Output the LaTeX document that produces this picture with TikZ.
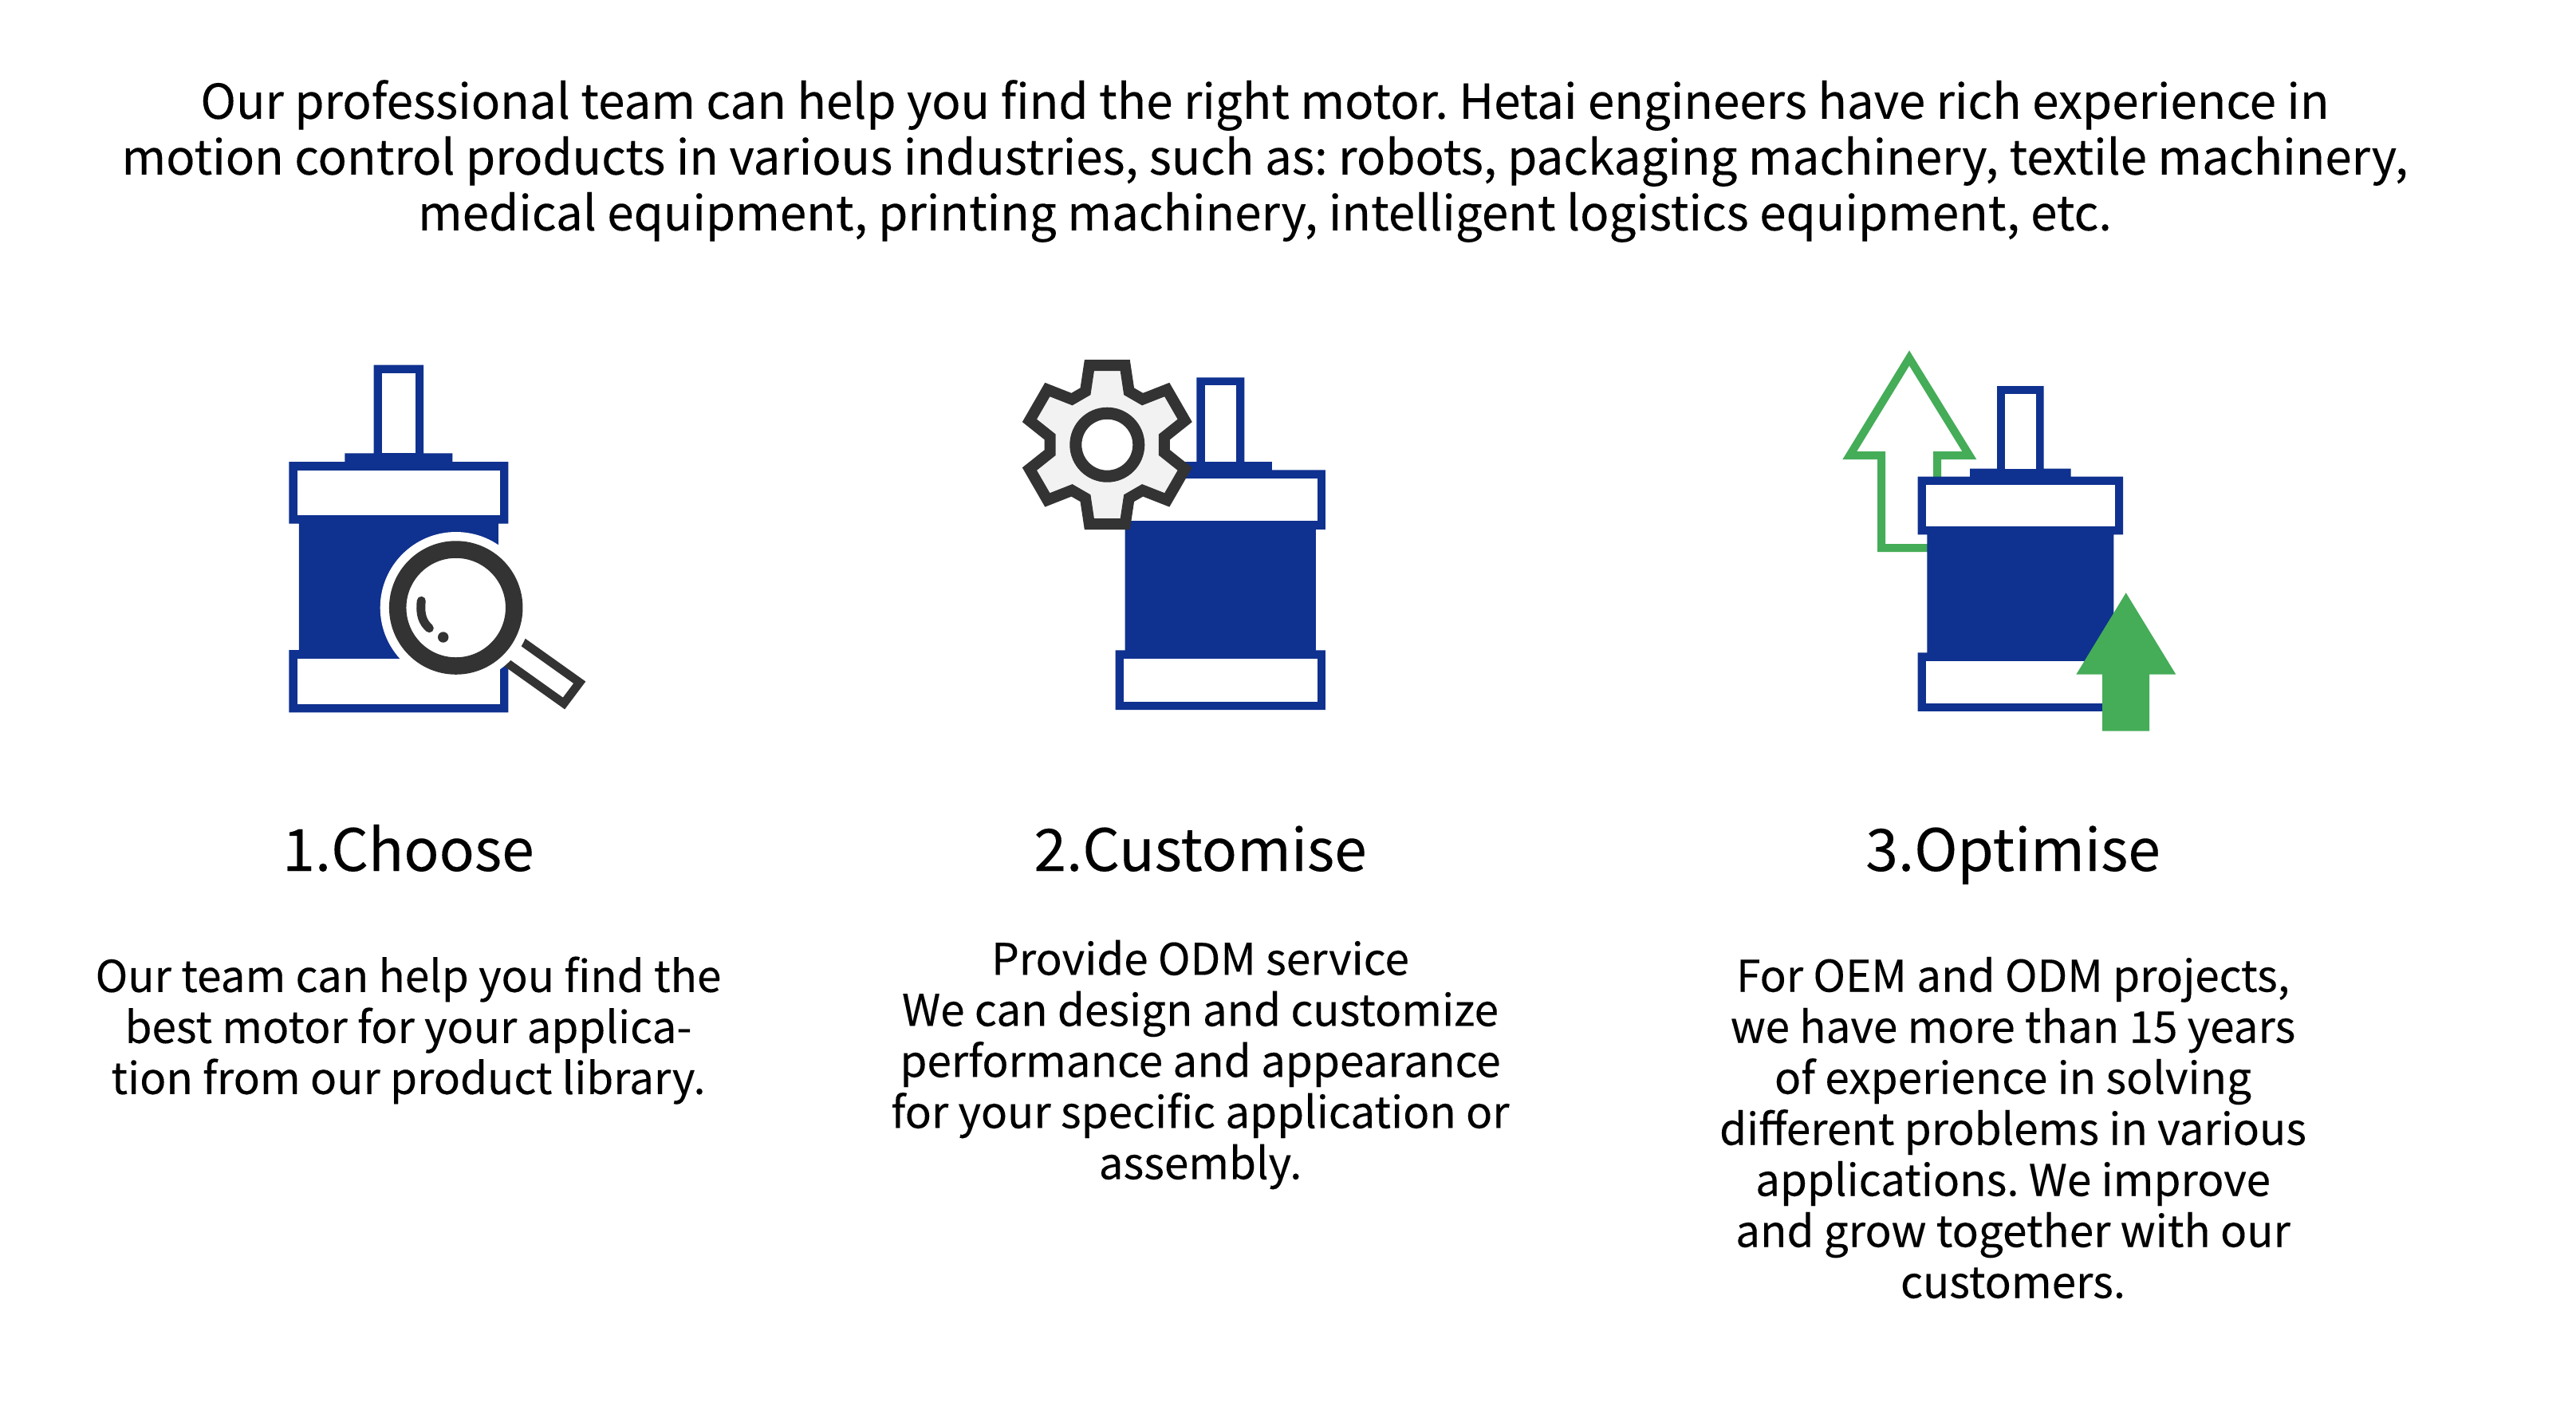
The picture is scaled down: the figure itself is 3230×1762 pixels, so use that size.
\documentclass[tikz,border=0pt]{standalone}
\usepackage{fontspec}
\setmainfont[FakeBold=0.15]{Noto Sans CJK SC}
\setlength{\lineskiplimit}{-20pt}
\frenchspacing
\definecolor{motorblue}{RGB}{15,49,143}
\definecolor{lensdark}{RGB}{51,51,51}
\definecolor{upgreen}{RGB}{69,172,88}
\definecolor{gearfill}{RGB}{242,242,242}
\tikzset{
  introtext/.style={align=center,font=\fontsize{17.1}{19.9}\selectfont},
  headtext/.style={anchor=base,font=\fontsize{20.8}{24}\selectfont},
  bodytext/.style={align=center,font=\fontsize{15.6}{18.2}\selectfont},
}
\newcommand{\drawmotor}[3]{%
  \begin{scope}[shift={(#1,#2)},scale=#3]
    \fill[motorblue] (-31.3,0)--(31.3,0)--(31.3,110.6)--(67.5,110.6)--(67.5,121.3)
      --(137.5,121.3)--(137.5,199)--(125,199)--(125,357.3)--(137.5,357.3)
      --(137.5,435.6)--(-137.5,435.6)--(-137.5,357.3)--(-125,357.3)--(-125,199)
      --(-137.5,199)--(-137.5,121.3)--(-67.5,121.3)--(-67.5,110.6)--(-31.3,110.6)--cycle;
    \fill[white] (-20.7,10.6) rectangle (20.7,110.6);
    \fill[white] (-126.7,132) rectangle (126.7,188);
    \fill[white] (-126.7,368.3) rectangle (126.7,425);
  \end{scope}}
\begin{document}
\begin{tikzpicture}[x=0.01cm,y=-0.01cm]
  \fill[white] (0,0) rectangle (3230,1762);
  \useasboundingbox (0,0) rectangle (3230,1762);

  \node[introtext] (intro) at (1586,202) {Our professional team can help you find the right motor. Hetai engineers have rich experience in\\
    motion control products in various industries, such as: robots, packaging machinery, textile machinery,\\
    medical equipment, printing machinery, intelligent logistics equipment, etc.};

  %choose icon
  \drawmotor{499.8}{457.7}{1}
  \draw[lensdark,line width=10.7*0.2845pt] (640,794) -- (726.7,855.7) -- (707,882) -- (620,820);
  \fill[white] (571.7,762) circle (95);
  \draw[lensdark,fill=white,line width=21.5*0.2845pt] (571.7,762) circle (73);
  \draw[lensdark,line width=11*0.2845pt,line cap=round] (528.3,753.3) .. controls (526,772) and (531,781) .. (538.3,787.7);
  \fill[lensdark] (555.7,799) circle (6.7);

  %customise icon
  \drawmotor{1530.3}{473.3}{0.957}
  \begin{scope}[shift={(1388.3,557.7)}]
    \draw[lensdark,fill=gearfill,line width=14*0.2845pt,miter limit=10] (102.7:102)
      \foreach \a in {0,-60,...,-300} {
        --(\a+77.3:102)--(\a+67.8:72.3)--(\a+52.2:72.3)--(\a+42.7:102)
      } -- cycle;
    \draw[lensdark,fill=white,line width=15*0.2845pt] (0,0) circle (39.5);
  \end{scope}

  %optimise icon
  \draw[upgreen,line width=10*0.2845pt] (2359,687)--(2359,571)--(2319.3,571)--(2394,449)
    --(2469.3,571)--(2429,571)--(2429,687)--cycle;
  \drawmotor{2533.3}{484}{0.936}
  \fill[upgreen] (2665.7,743.3)--(2728.3,845.7)--(2695,845.7)--(2695,916.7)
    --(2636,916.7)--(2636,845.7)--(2603.3,845.7)--cycle;

  \node[headtext] (choosehead) at (512,1092) {1.Choose};
  \node[headtext] (customhead) at (1505,1092) {2.Customise};
  \node[headtext] (optimhead) at (2524,1092) {3.Optimise};

  \node[bodytext] (choosebody) at (512,1292) {Our team can help you find the\\
    best motor for your applica-\\
    tion from our product library.};
  \node[bodytext] (custombody) at (1505,1335) {Provide ODM service\\
    We can design and customize\\
    performance and appearance\\
    for your specific application or\\
    assembly.};
  \node[bodytext] (optimbody) at (2524,1414) {For OEM and ODM projects,\\
    we have more than 15 years\\
    of experience in solving\\
    different problems in various\\
    applications. We improve\\
    and grow together with our\\
    customers.};
\end{tikzpicture}
\end{document}
